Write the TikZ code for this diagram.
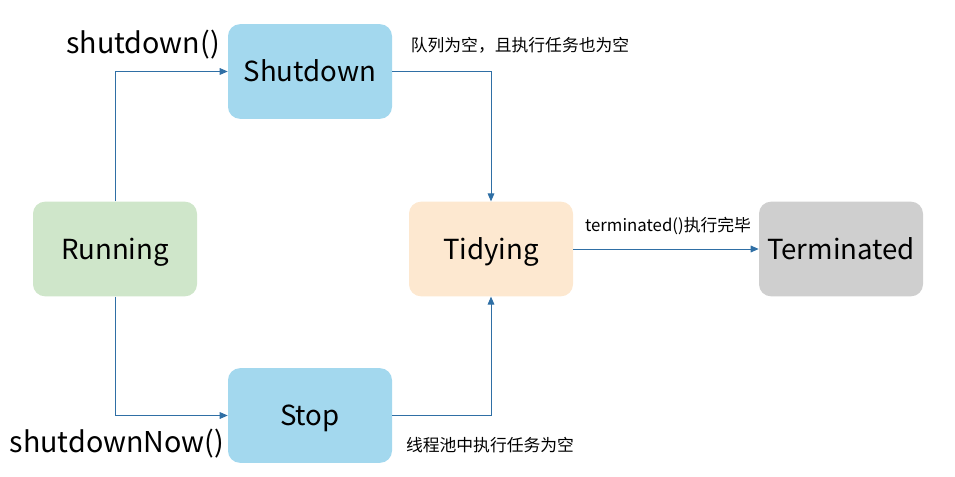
\documentclass[tikz,border=0pt]{standalone}
\usepackage{fontspec}
\setmainfont{Noto Sans CJK SC}
\usetikzlibrary{arrows.meta}
\definecolor{bluebox}{HTML}{A3D8EE}
\definecolor{greenbox}{HTML}{CFE6CA}
\definecolor{orangebox}{HTML}{FDE8D0}
\definecolor{graybox}{HTML}{CFCFCF}
\definecolor{linec}{HTML}{2F6FA5}
\tikzset{
  state/.style={rounded corners=9pt, minimum width=123pt, minimum height=71pt, inner sep=0pt, text height=15pt, text depth=0pt, font=\fontsize{20.7}{24}\selectfont},
  conn/.style={draw=linec, line width=0.75pt, -{Triangle[length=6pt,width=5pt]}},
  biglabel/.style={font=\fontsize{21.5}{25}\selectfont, inner sep=0pt},
  smalllabel/.style={font=\fontsize{12.6}{15}\selectfont, inner sep=0pt},
}
\begin{document}
\begin{tikzpicture}[x=0.75pt,y=-0.75pt]
\useasboundingbox (0,0) rectangle (955,477);
\node[state, fill=bluebox] (shut) at (310,71.5) {Shutdown};
\node[state, fill=greenbox] (run) at (115,249) {Running};
\node[state, fill=bluebox] (stop) at (310,415.5) {Stop};
\node[state, fill=orangebox] (tidy) at (491,249) {Tidying};
\node[state, fill=graybox] (term) at (841,249) {Terminated};

\draw[conn] (run.north) |- (shut.west);
\draw[conn] (run.south) |- (stop.west);
\draw[conn] (shut.east) -| (tidy.north);
\draw[conn] (stop.east) -| (tidy.south);
\draw[conn] (tidy.east) -- (term.west);

\node[biglabel] (l1) at (143,45) {shutdown()};
\node[biglabel] (l2) at (117,444) {shutdownNow()};
\node[smalllabel] (l3) at (520,45) {队列为空，且执行任务也为空};
\node[smalllabel] (l4) at (490,445) {线程池中执行任务为空};
\node[smalllabel] (l5) at (668,226) {terminated()执行完毕};
\end{tikzpicture}
\end{document}
